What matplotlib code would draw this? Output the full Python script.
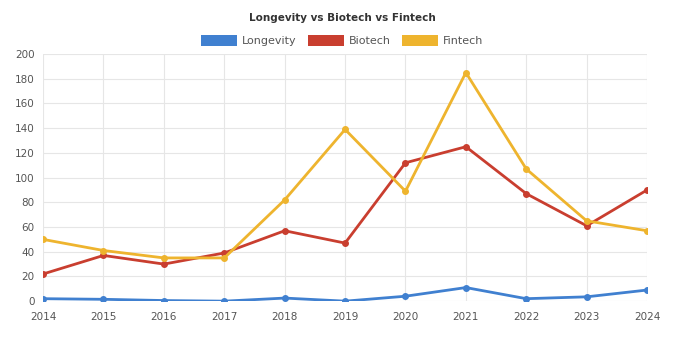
import matplotlib.pyplot as plt
from matplotlib.patches import Patch

years = [2014, 2015, 2016, 2017, 2018, 2019, 2020, 2021, 2022, 2023, 2024]
longevity = [2, 1.5, 0.5, 0, 2.5, 0, 4, 11, 2, 3.5, 9]
biotech = [22, 37, 30, 39, 57, 47, 112, 125, 87, 61, 90]
fintech = [50, 41, 35, 35, 82, 139, 89, 185, 107, 65, 57]

series = [
    ("Longevity", longevity, "#4080d0"),
    ("Biotech", biotech, "#c93e2f"),
    ("Fintech", fintech, "#eeb42e"),
]

fig = plt.figure(figsize=(6.84, 3.38), dpi=100)
ax = fig.add_axes([0.063, 0.109, 0.883, 0.731])

for name, vals, col in series:
    ax.plot(years, vals, color=col, linewidth=2, marker='o', markersize=4, label=name)

ax.set_xlim(2014, 2024)
ax.set_ylim(0, 200)
ax.set_xticks(years)
ax.set_yticks(range(0, 201, 20))
ax.grid(True, color='#e6e6e6', linewidth=0.8)
ax.set_axisbelow(True)
for s in ax.spines.values():
    s.set_visible(False)
ax.tick_params(axis='both', length=0, labelsize=7.5, labelcolor='#555555', pad=6)
ax.tick_params(axis='x', pad=8)

fig.text(0.5, 0.948, "Longevity vs Biotech vs Fintech", ha='center', va='center',
         fontsize=7.5, fontweight='bold', color='#333333')

handles = [Patch(facecolor=c, label=n) for n, _, c in series]
fig.legend(handles=handles, loc='center', bbox_to_anchor=(0.5, 0.88), ncol=3,
           frameon=False, fontsize=8, handlelength=3.3, handleheight=1.2,
           columnspacing=1.0, handletextpad=0.4, labelcolor='#555555')

fig.savefig("out.png", dpi=100)
